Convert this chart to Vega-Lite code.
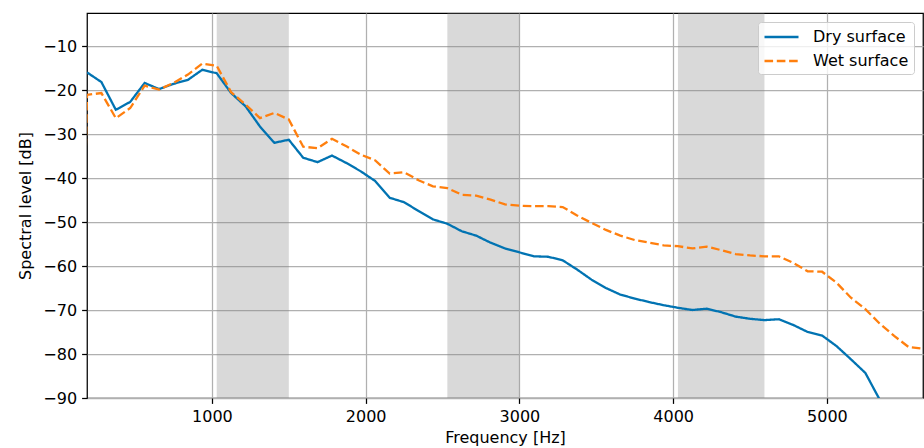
{
  "$schema": "https://vega.github.io/schema/vega-lite/v6.json",
  "width": 836,
  "height": 385,
  "autosize": "none",
  "padding": {"left": 87, "top": 13, "right": 1, "bottom": 50},
  "background": "white",
  "config": {
    "font": "DejaVu Sans",
    "view": {"stroke": "black", "strokeWidth": 1.25},
    "axis": {
      "domain": false,
      "grid": true,
      "gridColor": "#b0b0b0",
      "gridWidth": 1.25,
      "tickColor": "black",
      "tickSize": 5.4,
      "tickWidth": 1.25,
      "labelFontSize": 16,
      "labelColor": "black",
      "labelFont": "DejaVu Sans",
      "titleFont": "DejaVu Sans",
      "titleFontSize": 16,
      "titleFontWeight": "normal",
      "titleColor": "black"
    },
    "legend": {
      "orient": "top-right",
      "offset": 9,
      "padding": 5,
      "rowPadding": 6,
      "fillColor": "rgba(255,255,255,0.8)",
      "strokeColor": "#cccccc",
      "cornerRadius": 3,
      "labelFont": "DejaVu Sans",
      "labelFontSize": 16,
      "labelColor": "black",
      "labelOffset": 30,
      "symbolType": "M-1,0L3,0",
      "symbolSize": 289,
      "symbolStrokeWidth": 2.3
    }
  },
  "datasets": {
    "bands": [
      {"start": 1031.25, "end": 1500},
      {"start": 2531.25, "end": 3000},
      {"start": 4031.25, "end": 4593.75}
    ],
    "spectra": [
      {"frequency": 187.5, "level": -16.0, "surface": "Dry surface"},
      {"frequency": 281.25, "level": -18.2, "surface": "Dry surface"},
      {"frequency": 375, "level": -24.5, "surface": "Dry surface"},
      {"frequency": 468.75, "level": -22.7, "surface": "Dry surface"},
      {"frequency": 562.5, "level": -18.4, "surface": "Dry surface"},
      {"frequency": 656.25, "level": -19.8, "surface": "Dry surface"},
      {"frequency": 750, "level": -18.6, "surface": "Dry surface"},
      {"frequency": 843.75, "level": -17.7, "surface": "Dry surface"},
      {"frequency": 937.5, "level": -15.4, "surface": "Dry surface"},
      {"frequency": 1031.25, "level": -16.2, "surface": "Dry surface"},
      {"frequency": 1125, "level": -20.7, "surface": "Dry surface"},
      {"frequency": 1218.75, "level": -23.7, "surface": "Dry surface"},
      {"frequency": 1312.5, "level": -28.3, "surface": "Dry surface"},
      {"frequency": 1406.25, "level": -32.0, "surface": "Dry surface"},
      {"frequency": 1500, "level": -31.3, "surface": "Dry surface"},
      {"frequency": 1593.75, "level": -35.4, "surface": "Dry surface"},
      {"frequency": 1687.5, "level": -36.4, "surface": "Dry surface"},
      {"frequency": 1781.25, "level": -34.9, "surface": "Dry surface"},
      {"frequency": 1875, "level": -36.6, "surface": "Dry surface"},
      {"frequency": 1968.75, "level": -38.5, "surface": "Dry surface"},
      {"frequency": 2062.5, "level": -40.7, "surface": "Dry surface"},
      {"frequency": 2156.25, "level": -44.5, "surface": "Dry surface"},
      {"frequency": 2250, "level": -45.5, "surface": "Dry surface"},
      {"frequency": 2343.75, "level": -47.5, "surface": "Dry surface"},
      {"frequency": 2437.5, "level": -49.4, "surface": "Dry surface"},
      {"frequency": 2531.25, "level": -50.4, "surface": "Dry surface"},
      {"frequency": 2625, "level": -52.1, "surface": "Dry surface"},
      {"frequency": 2718.75, "level": -53.1, "surface": "Dry surface"},
      {"frequency": 2812.5, "level": -54.7, "surface": "Dry surface"},
      {"frequency": 2906.25, "level": -56.0, "surface": "Dry surface"},
      {"frequency": 3000, "level": -56.9, "surface": "Dry surface"},
      {"frequency": 3093.75, "level": -57.8, "surface": "Dry surface"},
      {"frequency": 3187.5, "level": -57.9, "surface": "Dry surface"},
      {"frequency": 3281.25, "level": -58.7, "surface": "Dry surface"},
      {"frequency": 3375, "level": -60.8, "surface": "Dry surface"},
      {"frequency": 3468.75, "level": -63.1, "surface": "Dry surface"},
      {"frequency": 3562.5, "level": -65.0, "surface": "Dry surface"},
      {"frequency": 3656.25, "level": -66.5, "surface": "Dry surface"},
      {"frequency": 3750, "level": -67.4, "surface": "Dry surface"},
      {"frequency": 3843.75, "level": -68.2, "surface": "Dry surface"},
      {"frequency": 3937.5, "level": -68.9, "surface": "Dry surface"},
      {"frequency": 4031.25, "level": -69.5, "surface": "Dry surface"},
      {"frequency": 4125, "level": -70.0, "surface": "Dry surface"},
      {"frequency": 4218.75, "level": -69.7, "surface": "Dry surface"},
      {"frequency": 4312.5, "level": -70.5, "surface": "Dry surface"},
      {"frequency": 4406.25, "level": -71.5, "surface": "Dry surface"},
      {"frequency": 4500, "level": -72.0, "surface": "Dry surface"},
      {"frequency": 4593.75, "level": -72.3, "surface": "Dry surface"},
      {"frequency": 4687.5, "level": -72.1, "surface": "Dry surface"},
      {"frequency": 4781.25, "level": -73.4, "surface": "Dry surface"},
      {"frequency": 4875, "level": -75.0, "surface": "Dry surface"},
      {"frequency": 4968.75, "level": -75.8, "surface": "Dry surface"},
      {"frequency": 5062.5, "level": -78.2, "surface": "Dry surface"},
      {"frequency": 5156.25, "level": -81.2, "surface": "Dry surface"},
      {"frequency": 5250, "level": -84.3, "surface": "Dry surface"},
      {"frequency": 5343.75, "level": -90.4, "surface": "Dry surface"},
      {"frequency": 93.75, "level": -170, "surface": "Wet surface"},
      {"frequency": 187.5, "level": -21.1, "surface": "Wet surface"},
      {"frequency": 281.25, "level": -20.7, "surface": "Wet surface"},
      {"frequency": 375, "level": -26.4, "surface": "Wet surface"},
      {"frequency": 468.75, "level": -24.1, "surface": "Wet surface"},
      {"frequency": 562.5, "level": -19.0, "surface": "Wet surface"},
      {"frequency": 656.25, "level": -19.9, "surface": "Wet surface"},
      {"frequency": 750, "level": -18.4, "surface": "Wet surface"},
      {"frequency": 843.75, "level": -16.5, "surface": "Wet surface"},
      {"frequency": 937.5, "level": -14.0, "surface": "Wet surface"},
      {"frequency": 1031.25, "level": -14.5, "surface": "Wet surface"},
      {"frequency": 1125, "level": -20.5, "surface": "Wet surface"},
      {"frequency": 1218.75, "level": -23.3, "surface": "Wet surface"},
      {"frequency": 1312.5, "level": -26.4, "surface": "Wet surface"},
      {"frequency": 1406.25, "level": -25.2, "surface": "Wet surface"},
      {"frequency": 1500, "level": -26.7, "surface": "Wet surface"},
      {"frequency": 1593.75, "level": -32.9, "surface": "Wet surface"},
      {"frequency": 1687.5, "level": -33.2, "surface": "Wet surface"},
      {"frequency": 1781.25, "level": -31.1, "surface": "Wet surface"},
      {"frequency": 1875, "level": -32.8, "surface": "Wet surface"},
      {"frequency": 1968.75, "level": -34.7, "surface": "Wet surface"},
      {"frequency": 2062.5, "level": -36.0, "surface": "Wet surface"},
      {"frequency": 2156.25, "level": -39.0, "surface": "Wet surface"},
      {"frequency": 2250, "level": -38.7, "surface": "Wet surface"},
      {"frequency": 2343.75, "level": -40.5, "surface": "Wet surface"},
      {"frequency": 2437.5, "level": -41.9, "surface": "Wet surface"},
      {"frequency": 2531.25, "level": -42.3, "surface": "Wet surface"},
      {"frequency": 2625, "level": -43.8, "surface": "Wet surface"},
      {"frequency": 2718.75, "level": -44.0, "surface": "Wet surface"},
      {"frequency": 2812.5, "level": -44.9, "surface": "Wet surface"},
      {"frequency": 2906.25, "level": -46.0, "surface": "Wet surface"},
      {"frequency": 3000, "level": -46.3, "surface": "Wet surface"},
      {"frequency": 3093.75, "level": -46.4, "surface": "Wet surface"},
      {"frequency": 3187.5, "level": -46.4, "surface": "Wet surface"},
      {"frequency": 3281.25, "level": -46.6, "surface": "Wet surface"},
      {"frequency": 3375, "level": -48.5, "surface": "Wet surface"},
      {"frequency": 3468.75, "level": -50.2, "surface": "Wet surface"},
      {"frequency": 3562.5, "level": -51.8, "surface": "Wet surface"},
      {"frequency": 3656.25, "level": -53.1, "surface": "Wet surface"},
      {"frequency": 3750, "level": -54.1, "surface": "Wet surface"},
      {"frequency": 3843.75, "level": -54.7, "surface": "Wet surface"},
      {"frequency": 3937.5, "level": -55.3, "surface": "Wet surface"},
      {"frequency": 4031.25, "level": -55.5, "surface": "Wet surface"},
      {"frequency": 4125, "level": -56.0, "surface": "Wet surface"},
      {"frequency": 4218.75, "level": -55.6, "surface": "Wet surface"},
      {"frequency": 4312.5, "level": -56.4, "surface": "Wet surface"},
      {"frequency": 4406.25, "level": -57.3, "surface": "Wet surface"},
      {"frequency": 4500, "level": -57.6, "surface": "Wet surface"},
      {"frequency": 4593.75, "level": -57.8, "surface": "Wet surface"},
      {"frequency": 4687.5, "level": -57.8, "surface": "Wet surface"},
      {"frequency": 4781.25, "level": -59.3, "surface": "Wet surface"},
      {"frequency": 4875, "level": -61.2, "surface": "Wet surface"},
      {"frequency": 4968.75, "level": -61.3, "surface": "Wet surface"},
      {"frequency": 5062.5, "level": -63.8, "surface": "Wet surface"},
      {"frequency": 5156.25, "level": -67.2, "surface": "Wet surface"},
      {"frequency": 5250, "level": -69.8, "surface": "Wet surface"},
      {"frequency": 5343.75, "level": -73.1, "surface": "Wet surface"},
      {"frequency": 5437.5, "level": -75.9, "surface": "Wet surface"},
      {"frequency": 5531.25, "level": -78.4, "surface": "Wet surface"},
      {"frequency": 5625, "level": -78.8, "surface": "Wet surface"}
    ]
  },
  "layer": [
    {
      "data": {"name": "bands"},
      "mark": {"type": "rect", "fill": "#808080", "fillOpacity": 0.3, "strokeWidth": 0},
      "encoding": {
        "x": {
          "field": "start",
          "type": "quantitative",
          "scale": {"domain": [187.5, 5625], "nice": false, "zero": false},
          "axis": {"title": "Frequency [Hz]", "values": [1000, 2000, 3000, 4000, 5000], "format": "d", "labelPadding": 5, "titlePadding": 5}
        },
        "x2": {"field": "end"}
      }
    },
    {
      "data": {"name": "spectra"},
      "mark": {"type": "line", "strokeWidth": 2.3, "clip": true},
      "encoding": {
        "x": {
          "field": "frequency",
          "type": "quantitative",
          "scale": {"domain": [187.5, 5625], "nice": false, "zero": false},
          "axis": {"title": "Frequency [Hz]", "values": [1000, 2000, 3000, 4000, 5000], "format": "d", "labelPadding": 5, "titlePadding": 5}
        },
        "y": {
          "field": "level",
          "type": "quantitative",
          "scale": {"domain": [-90, -2.5], "nice": false, "zero": false},
          "axis": {"title": "Spectral level [dB]", "values": [-90, -80, -70, -60, -50, -40, -30, -20, -10], "labelPadding": 5, "titlePadding": 9}
        },
        "color": {
          "field": "surface",
          "type": "nominal",
          "scale": {"domain": ["Dry surface", "Wet surface"], "range": ["#0173b2", "#ff7f0e"]},
          "legend": {"title": null}
        },
        "strokeDash": {
          "field": "surface",
          "type": "nominal",
          "scale": {"domain": ["Dry surface", "Wet surface"], "range": [[1, 0], [8.6, 3.7]]},
          "legend": {"title": null}
        }
      }
    }
  ]
}
